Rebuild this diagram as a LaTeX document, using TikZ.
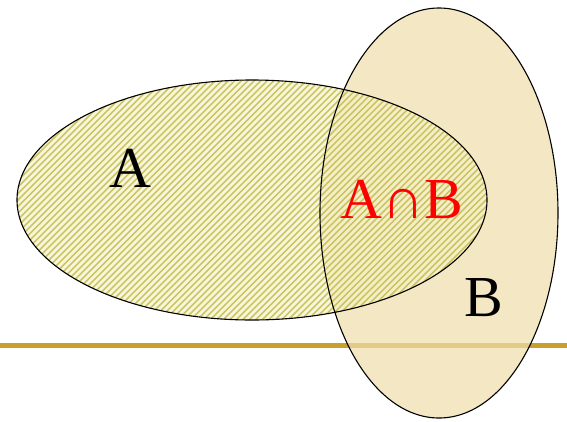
\documentclass[tikz,border=0pt]{standalone}
\usepackage{fontspec}
\setmainfont{Liberation Serif}
\definecolor{linegold}{HTML}{C9A02E}
\definecolor{bfill}{HTML}{F0DDAA}
\definecolor{afill}{HTML}{F6F3CC}
\definecolor{hatch}{HTML}{C2BA48}
\begin{document}
\begin{tikzpicture}[x=1pt,y=-1pt,
  outl/.style={draw=black,line width=1.1pt},
  lbl/.style={font=\fontsize{58}{58}\selectfont,inner sep=0pt}]
\useasboundingbox (0,0) rectangle (567,421);
\fill[white] (0,0) rectangle (567,421);
% horizontal line
\coordinate (L1) at (0,345);
\coordinate (L2) at (567,345);
\draw[linegold,line width=5pt] (L1) -- (L2);
% ellipse B
\fill[bfill,opacity=0.7] (439,213) ellipse [x radius=119,y radius=205];
% ellipse A hatched
\begin{scope}
  \clip (252,200) ellipse [x radius=235,y radius=120];
  \fill[afill,opacity=0.7] (0,0) rectangle (567,421);
  \foreach \i in {-450,-443.5,...,600}{
    \draw[hatch,line width=1.7pt,opacity=0.8] (\i,330) -- ++(260,-260);
  }
\end{scope}
\draw[outl] (252,200) ellipse [x radius=235,y radius=120];
\draw[outl] (439,213) ellipse [x radius=119,y radius=205];
\node[lbl] (A) at (130,168) {A};
\node[lbl,text=red] (AB) at (402,199) {A∩B};
\node[lbl] (B) at (484,298) {B};
\end{tikzpicture}
\end{document}
